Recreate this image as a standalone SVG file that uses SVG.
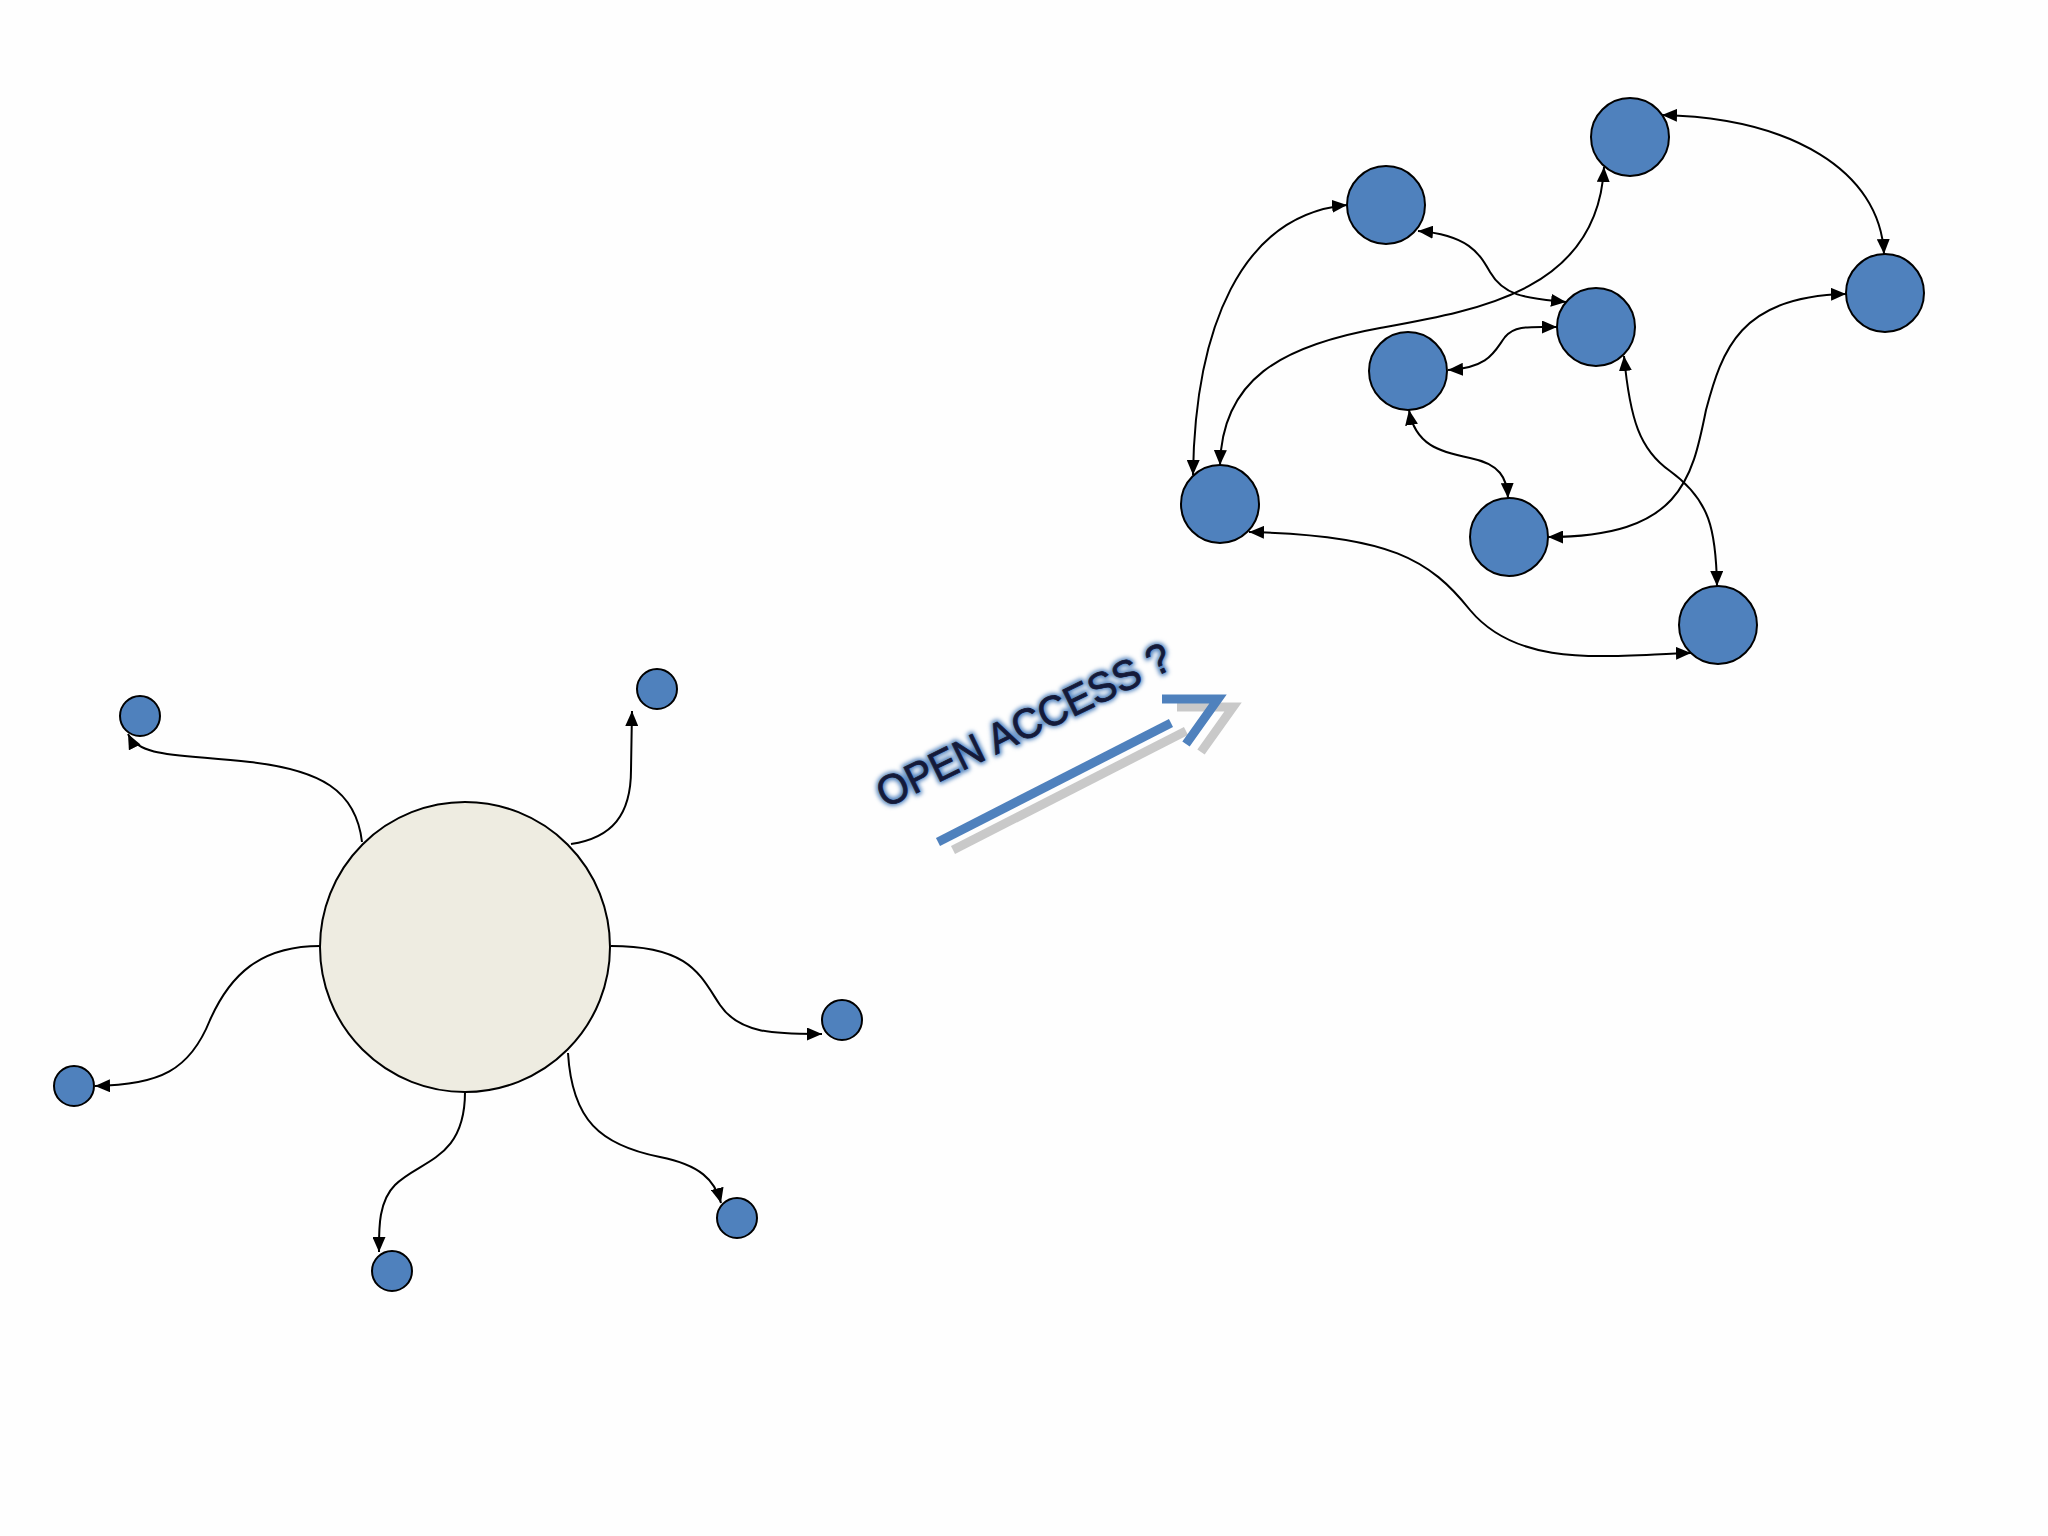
<svg xmlns="http://www.w3.org/2000/svg" width="2048" height="1536" viewBox="0 0 2048 1536">
<style>
.node{fill:#4f81bd;stroke:#000;stroke-width:2}
.hub{fill:#eeece1;stroke:#000;stroke-width:2}
.edge{fill:none;stroke:#000;stroke-width:2}
.oneway{marker-end:url(#ah)}
.twoway{marker-start:url(#ah);marker-end:url(#ah)}
.title{font-family:"Liberation Sans","Open Sans",sans-serif;font-size:42px}
</style>
<defs>
<marker id="ah" viewBox="0 0 15 13" refX="15" refY="6.5" markerWidth="15" markerHeight="13" markerUnits="userSpaceOnUse" orient="auto-start-reverse">
<path d="M0,0 L15,6.5 L0,13 z" fill="#000"/>
</marker>
<filter id="glow" x="-20%" y="-60%" width="140%" height="220%">
<feGaussianBlur stdDeviation="2.2"/>
</filter>
</defs>
<rect width="2048" height="1536" fill="#fefefe"/>

<g id="connectors">
<path class="edge oneway" d="M362,842 C356,790 320,770 250,762 C180,754 140,758 128,734"/>
<path class="edge oneway" d="M571,844 C612,838 631,815 631,770 L632,711"/>
<path class="edge oneway" d="M611,946 C690,946 700,975 720,1005 C740,1035 780,1034 822,1034"/>
<path class="edge oneway" d="M320,946 C260,946 230,975 210,1020 C190,1070 160,1085 95,1086"/>
<path class="edge oneway" d="M465,1092 C465,1160 420,1160 395,1185 C378,1202 379,1230 379,1252"/>
<path class="edge oneway" d="M568,1053 C572,1120 600,1145 660,1157 C700,1165 715,1180 721,1203"/>

<path class="edge twoway" d="M1662,115 C1790,118 1880,170 1884,254"/>
<path class="edge twoway" d="M1347,205 C1240,215 1195,330 1193,475"/>
<path class="edge twoway" d="M1604,167 C1598,290 1480,310 1380,328 C1280,346 1222,380 1220,465"/>
<path class="edge twoway" d="M1418,231 C1470,235 1480,255 1490,272 C1505,298 1530,298 1566,302"/>
<path class="edge twoway" d="M1448,370 C1490,368 1495,350 1505,337 C1515,325 1530,327 1557,327"/>
<path class="edge twoway" d="M1409,410 C1415,445 1440,452 1470,458 C1500,464 1507,478 1508,498"/>
<path class="edge twoway" d="M1624,356 C1630,420 1640,450 1670,471 C1710,500 1716,530 1717,586"/>
<path class="edge twoway" d="M1846,294 C1740,296 1722,350 1706,410 C1692,480 1680,537 1548,537"/>
<path class="edge twoway" d="M1249,532 C1390,535 1430,560 1470,610 C1520,670 1610,655 1691,653"/>
</g>

<g id="hub"><circle class="hub" cx="465" cy="947" r="145"/></g>
<g id="leaf-topleft"><circle class="node" cx="140" cy="716" r="20"/></g>
<g id="leaf-topright"><circle class="node" cx="657" cy="689" r="20"/></g>
<g id="leaf-right"><circle class="node" cx="842" cy="1020" r="20"/></g>
<g id="leaf-left"><circle class="node" cx="74" cy="1086" r="20"/></g>
<g id="leaf-bottom"><circle class="node" cx="392" cy="1271" r="20"/></g>
<g id="leaf-bottomright"><circle class="node" cx="737" cy="1218" r="20"/></g>

<g id="net-a"><circle class="node" cx="1386" cy="205" r="39"/></g>
<g id="net-b"><circle class="node" cx="1630" cy="137" r="39"/></g>
<g id="net-c"><circle class="node" cx="1596" cy="327" r="39"/></g>
<g id="net-d"><circle class="node" cx="1885" cy="293" r="39"/></g>
<g id="net-e"><circle class="node" cx="1408" cy="371" r="39"/></g>
<g id="net-f"><circle class="node" cx="1220" cy="504" r="39"/></g>
<g id="net-g"><circle class="node" cx="1509" cy="537" r="39"/></g>
<g id="net-h"><circle class="node" cx="1718" cy="625" r="39"/></g>

<g id="open-access-arrow">
<g transform="translate(15,8)" fill="none" stroke="#c9c9c9" stroke-width="9">
<line x1="938" y1="842" x2="1171" y2="723"/>
<polyline points="1162,699 1218,699 1186,744" stroke-linejoin="miter"/>
</g>
<g fill="none" stroke="#4f81bd" stroke-width="9">
<line x1="938" y1="842" x2="1171" y2="723"/>
<polyline points="1162,699 1218,699 1186,744" stroke-linejoin="miter"/>
</g>
</g>

<g id="open-access-label" transform="translate(1030,738) rotate(-26)">
<text class="title" x="0" y="0" text-anchor="middle" textLength="322" lengthAdjust="spacingAndGlyphs" fill="#4f81bd" stroke="#4f81bd" stroke-width="5" stroke-linejoin="round" filter="url(#glow)">OPEN ACCESS ?</text>
<text class="title" x="0" y="0" text-anchor="middle" textLength="322" lengthAdjust="spacingAndGlyphs" fill="#141a3a" stroke="#141a3a" stroke-width="0.8">OPEN ACCESS ?</text>
</g>
</svg>
